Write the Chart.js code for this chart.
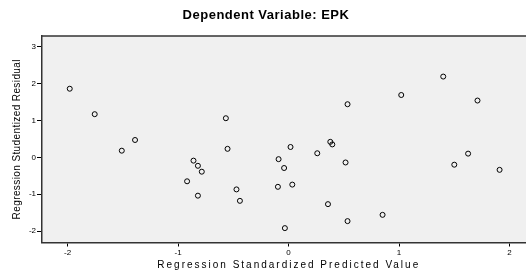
<!DOCTYPE html>
<html>
<head>
<meta charset="utf-8">
<script src="https://cdn.jsdelivr.net/npm/chart.js@4/dist/chart.umd.min.js"></script>
<style>
  body { margin: 0; background: #fff; }
  #wrap { width: 526px; height: 271px; overflow: hidden; }
</style>
</head>
<body>
<div id="wrap"><canvas id="myChart" width="539" height="271"></canvas></div>
<script>
const predicted = [-1.98, -1.754, -1.389, -1.509, -0.567, -0.552, -0.86, -0.82, -0.785, -0.918, -0.82,
  -0.471, -0.44, -0.09, -0.04, -0.096, -0.033, 0.534, 1.02, 0.018, 0.26, 0.378, 0.396, 0.516,
  0.034, 0.357, 0.534, 0.851, 1.40, 1.71, 1.625, 1.50, 1.91];
const residuals = [1.86, 1.17, 0.47, 0.18, 1.06, 0.23, -0.09, -0.23, -0.39, -0.65, -1.04,
  -0.87, -1.18, -0.05, -0.29, -0.80, -1.92, 1.44, 1.69, 0.28, 0.11, 0.42, 0.35, -0.14,
  -0.74, -1.27, -1.73, -1.56, 2.19, 1.54, 0.10, -0.20, -0.34];
const xTicks = [-2, -1, 0, 1, 2];
const yTicks = [-2, -1, 0, 1, 2, 3];

const points = predicted.map((x, i) => ({x: x, y: residuals[i]}));
const ctx = document.getElementById('myChart');
const font = 'Liberation Sans, Arial, sans-serif';

// wrap a draw function so its text gets some letter spacing (and a small nudge)
function spaced(obj, fn, sp, dx) {
  if (!obj || obj['_sp_' + fn]) return;
  const orig = obj[fn];
  obj[fn] = function (...args) {
    const c = this.ctx;
    c.save();
    c.letterSpacing = sp;
    if (dx) c.translate(dx, 0);
    orig.apply(this, args);
    c.restore();
  };
  obj['_sp_' + fn] = true;
}

// grey plot area + top border line
const plotBox = {
  id: 'plotBox',
  beforeDraw(chart) {
    const a = chart.chartArea, c = chart.ctx;
    c.save();
    c.fillStyle = '#f0f0f0';
    c.fillRect(a.left, a.top, a.right - a.left, a.bottom - a.top);
    c.restore();
    spaced(chart.scales.x, 'drawTitle', '2px');
    spaced(chart.scales.y, 'drawTitle', '0.4px');
    spaced(chart.titleBlock, 'draw', '0.5px', -3.5);
  },
  afterDraw(chart) {
    const a = chart.chartArea, c = chart.ctx;
    c.save();
    c.strokeStyle = '#333';
    c.lineWidth = 1.5;
    c.beginPath();
    c.moveTo(a.left, a.top);
    c.lineTo(a.right, a.top);
    c.stroke();
    c.restore();
  }
};

new Chart(ctx, {
  type: 'scatter',
  data: {
    datasets: [{
      data: points,
      pointRadius: 2.5,
      pointHoverRadius: 2.5,
      borderColor: '#000',
      pointBorderColor: '#000',
      pointBackgroundColor: 'rgba(0,0,0,0)',
      pointBorderWidth: 1,
    }]
  },
  options: {
    responsive: false,
    animation: false,
    layout: {padding: 0},
    plugins: {
      legend: {display: false},
      tooltip: {enabled: false},
      title: {
        display: true,
        text: 'Dependent Variable: EPK',
        color: '#000',
        font: {family: font, size: 13, weight: 'bold'},
        padding: {top: 8, bottom: 12.4}
      }
    },
    scales: {
      x: {
        type: 'linear',
        min: -2.231,
        max: 2.235,
        afterBuildTicks: s => { s.ticks = xTicks.map(v => ({value: v})); },
        afterFit: s => { s.height = 28.5; },
        grid: {drawOnChartArea: false, drawTicks: true, tickLength: 4, color: '#000'},
        border: {display: true, color: '#333', width: 1.5},
        ticks: {color: '#000', font: {family: font, size: 8}, padding: 1, maxRotation: 0},
        title: {
          display: true,
          text: 'Regression Standardized Predicted Value',
          color: '#000',
          font: {family: font, size: 10},
          padding: {top: 0, bottom: 0}
        }
      },
      y: {
        type: 'linear',
        min: -2.31,
        max: 3.29,
        afterBuildTicks: s => { s.ticks = yTicks.map(v => ({value: v})); },
        afterFit: s => { s.width = 42; },
        grid: {drawOnChartArea: false, drawTicks: true, tickLength: 5, color: '#000'},
        border: {display: true, color: '#333', width: 1.5},
        ticks: {color: '#000', font: {family: font, size: 8}, padding: 1},
        title: {
          display: true,
          text: 'Regression Studentized Residual',
          color: '#000',
          font: {family: font, size: 10},
          padding: {top: 11, bottom: 0}
        }
      }
    }
  },
  plugins: [plotBox]
});
</script>
</body>
</html>
